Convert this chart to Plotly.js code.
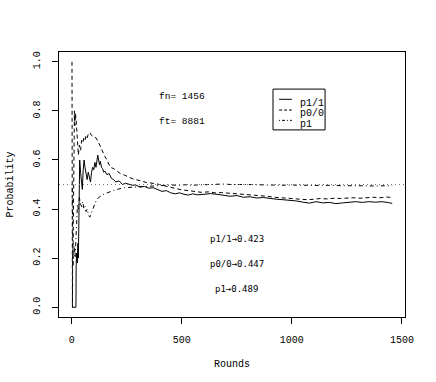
<!DOCTYPE html>
<html>
<head>
<meta charset="utf-8">
<script src="https://cdn.plot.ly/plotly-3.0.1.min.js"></script>
<style>
  body { margin: 0; background: #fff; }
  #plot { width: 436px; height: 382px; }
</style>
</head>
<body>
<div id="plot"></div>
<script>
// running estimates per round
var roundsP11 = [1, 5, 10, 15, 19, 20, 22, 25, 28, 30, 33, 36, 40, 44, 48, 52, 56, 60, 65, 70, 75, 80, 85, 90, 95, 100,
    105, 110, 115, 118, 122, 126, 130, 135, 140, 145, 150, 160, 170, 180, 190, 200, 215, 230, 245, 260, 275, 290, 310,
    330, 350, 370, 390, 410, 430, 450, 470, 490, 510, 530, 550, 570, 600, 630, 660, 690, 720, 750, 780, 810, 840, 870,
    900, 930, 960, 990, 1020, 1050, 1080, 1110, 1140, 1170, 1200, 1230, 1260, 1290, 1320, 1350, 1380, 1410, 1440, 1456];
var p11 = [0, 0, 0, 0, 0, 0.17, 0.22, 0.18, 0.26, 0.2, 0.5, 0.6, 0.55, 0.5, 0.48, 0.56, 0.6, 0.57, 0.54, 0.52, 0.55,
    0.53, 0.51, 0.55, 0.57, 0.56, 0.59, 0.57, 0.6, 0.62, 0.6, 0.58, 0.595, 0.57, 0.565, 0.55, 0.555, 0.54, 0.545, 0.525,
    0.52, 0.51, 0.515, 0.5, 0.505, 0.5, 0.497, 0.498, 0.49, 0.492, 0.485, 0.487, 0.48, 0.472, 0.475, 0.466, 0.462, 0.466,
    0.46, 0.457, 0.462, 0.458, 0.46, 0.463, 0.46, 0.455, 0.452, 0.455, 0.448, 0.45, 0.445, 0.447, 0.442, 0.44, 0.438,
    0.436, 0.433, 0.428, 0.424, 0.43, 0.425, 0.427, 0.422, 0.425, 0.428, 0.43, 0.427, 0.43, 0.428, 0.43, 0.426, 0.423];

var roundsP00 = [1, 2, 3, 4, 6, 9, 12, 14, 17, 20, 25, 30, 35, 40, 45, 50, 55, 60, 65, 70, 75, 82, 90, 100, 110, 120,
    130, 140, 150, 160, 175, 190, 205, 220, 240, 260, 280, 300, 320, 340, 360, 380, 400, 420, 440, 460, 480, 500, 530,
    560, 590, 620, 650, 680, 710, 740, 770, 800, 830, 860, 890, 920, 950, 980, 1010, 1040, 1070, 1100, 1130, 1160, 1190,
    1220, 1250, 1280, 1310, 1340, 1370, 1400, 1430, 1456];
var p00 = [1.0, 0.0, 0.0, 0.2, 0.25, 0.78, 0.8, 0.74, 0.79, 0.76, 0.7, 0.62, 0.66, 0.64, 0.68, 0.67, 0.69, 0.68, 0.7,
    0.69, 0.705, 0.712, 0.7, 0.695, 0.69, 0.675, 0.655, 0.63, 0.615, 0.6, 0.57, 0.565, 0.555, 0.545, 0.538, 0.53, 0.522,
    0.518, 0.512, 0.508, 0.506, 0.504, 0.5, 0.495, 0.49, 0.485, 0.48, 0.478, 0.475, 0.47, 0.468, 0.47, 0.466, 0.467,
    0.465, 0.462, 0.46, 0.457, 0.455, 0.456, 0.452, 0.448, 0.446, 0.445, 0.443, 0.441, 0.438, 0.44, 0.443, 0.441, 0.444,
    0.443, 0.445, 0.446, 0.444, 0.447, 0.448, 0.446, 0.449, 0.447];

var roundsP1 = [2, 4, 6, 9, 12, 15, 18, 22, 26, 30, 35, 40, 45, 50, 55, 60, 65, 70, 76, 82, 88, 95, 100, 106, 112, 120,
    130, 140, 150, 160, 175, 190, 205, 220, 240, 260, 280, 300, 330, 360, 390, 420, 450, 480, 510, 540, 570, 600, 630,
    660, 690, 720, 750, 780, 810, 840, 870, 900, 930, 960, 990, 1020, 1050, 1080, 1110, 1140, 1170, 1200, 1230, 1260,
    1290, 1320, 1350, 1380, 1410, 1440, 1456];
var p1 = [0.5, 0.25, 0.17, 0.22, 0.25, 0.2, 0.28, 0.35, 0.42, 0.4, 0.45, 0.42, 0.41, 0.43, 0.4, 0.41, 0.39, 0.4, 0.375,
    0.367, 0.38, 0.4, 0.41, 0.425, 0.437, 0.445, 0.452, 0.458, 0.462, 0.466, 0.47, 0.476, 0.48, 0.484, 0.487, 0.488,
    0.489, 0.49, 0.493, 0.495, 0.497, 0.496, 0.498, 0.497, 0.499, 0.497, 0.498, 0.5, 0.502, 0.503, 0.502, 0.5, 0.501,
    0.499, 0.5, 0.499, 0.498, 0.499, 0.498, 0.497, 0.498, 0.497, 0.496, 0.497, 0.496, 0.497, 0.495, 0.496, 0.495, 0.496,
    0.494, 0.495, 0.494, 0.495, 0.494, 0.495, 0.494];

var seriesNames = ["p1/1", "p0/0", "p1"];
var finalVals = ["0.423", "0.447", "0.489"];
var fn = 1456, ft = 8881;
var xTicks = [0, 500, 1000, 1500];
var yTicks = [0, 0.2, 0.4, 0.6, 0.8, 1.0];

var font = "Liberation Mono, DejaVu Sans Mono, monospace";
var dashes = ["solid", "4px,3px", "1px,3px,4px,3px"];

var traces = [
    { x: roundsP11, y: p11, name: seriesNames[0], mode: "lines", line: { color: "black", width: 1, dash: dashes[0] } },
    { x: roundsP00, y: p00, name: seriesNames[1], mode: "lines", line: { color: "black", width: 1, dash: dashes[1] } },
    { x: roundsP1, y: p1, name: seriesNames[2], mode: "lines", line: { color: "black", width: 1, dash: dashes[2] } }
];

// legend drawn by hand, R-style small box
var legX0 = 0.6185, legX1 = 0.769, legTop = 0.86, legBot = 0.706;
var rowY = [0.8215, 0.781, 0.742];
var shapes = [
    { type: "line", xref: "paper", yref: "y", x0: 0, x1: 1, y0: 0.5, y1: 0.5,
      line: { color: "#777", width: 1, dash: "1px,3px" } },
    { type: "rect", xref: "paper", yref: "paper", x0: legX0, x1: legX1, y0: legBot, y1: legTop,
      line: { color: "black", width: 1 }, fillcolor: "white" }
];
var annotations = [
    { x: 500, y: 0.857, text: "fn= " + fn },
    { x: 500, y: 0.755, text: "ft= " + ft }
];
for (var k = 0; k < 3; k++) {
    annotations.push({ x: 750, y: [0.276, 0.174, 0.073][k], text: seriesNames[k] + "→" + finalVals[k], arrowFont: true });
}
annotations = annotations.map(function (a) {
    a.xref = "x"; a.yref = "y"; a.showarrow = false;
    a.font = { family: a.arrowFont ? "DejaVu Sans Mono" : font, size: a.arrowFont ? 9 : 9.5, color: "black" };
    delete a.arrowFont;
    return a;
});
for (var i = 0; i < 3; i++) {
    shapes.push({ type: "line", xref: "paper", yref: "paper", x0: 0.636, x1: 0.673, y0: rowY[i], y1: rowY[i],
        line: { color: "black", width: 1, dash: i === 1 ? "3px,2px" : (i === 2 ? "1px,2px,3px,2px" : "solid") } });
    annotations.push({ xref: "paper", yref: "paper", x: 0.69, y: rowY[i] + 0.014, xanchor: "left", showarrow: false,
        text: seriesNames[i], font: { family: font, size: 10, color: "black" } });
}

var layout = {
    width: 436, height: 382,
    margin: { l: 59, r: 31, t: 52, b: 65 },
    paper_bgcolor: "white", plot_bgcolor: "white",
    showlegend: false,
    font: { family: font, size: 10, color: "black" },
    xaxis: {
        range: [-58, 1514], tickvals: xTicks, ticktext: xTicks.map(String),
        showgrid: false, zeroline: false, showline: true, mirror: true, linecolor: "black", linewidth: 1,
        ticks: "outside", ticklen: 6, tickcolor: "black", ticklabelstandoff: 7,
        title: { text: "Rounds", standoff: 14, font: { family: font, size: 10 } }
    },
    yaxis: {
        range: [-0.04, 1.04], tickvals: yTicks, ticktext: yTicks.map(function (v) { return v.toFixed(1); }),
        tickangle: -90,
        showgrid: false, zeroline: false, showline: true, mirror: true, linecolor: "black", linewidth: 1,
        ticks: "outside", ticklen: 6, tickcolor: "black", ticklabelstandoff: 8,
        title: { text: "Probability", standoff: 16, font: { family: font, size: 10 } }
    },
    shapes: shapes,
    annotations: annotations
};

Plotly.newPlot("plot", traces, layout, { displayModeBar: false, staticPlot: true });
</script>
</body>
</html>
